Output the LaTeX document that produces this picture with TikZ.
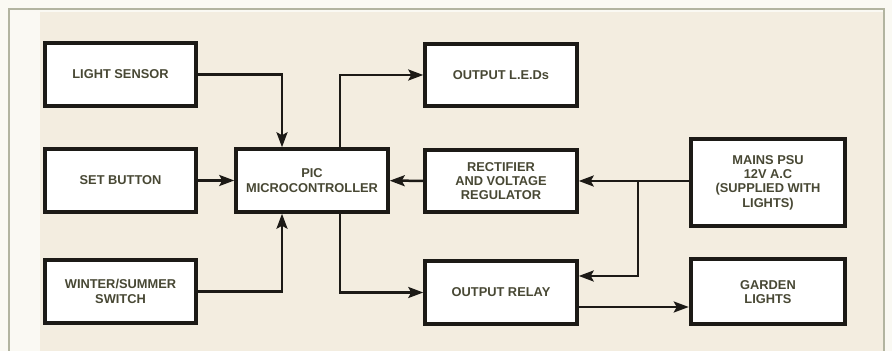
\documentclass[tikz,border=0pt]{standalone}
\usepackage{fontspec}
\setmainfont{Liberation Sans}
\usetikzlibrary{arrows.meta, positioning, calc}
\definecolor{paper}{RGB}{243,237,224}
\definecolor{margin}{RGB}{250,249,243}
\definecolor{frameline}{RGB}{178,180,160}
\definecolor{ink}{RGB}{28,26,22}
\definecolor{labelink}{RGB}{72,72,52}

\tikzset{
    block/.style={draw=ink, line width=0.08cm, fill=white, minimum width=3.03cm, minimum height=1.25cm,
        align=center, font=\fontsize{7.3}{8.2}\selectfont\bfseries, text=labelink, inner sep=1pt},
    conn/.style={draw=ink, line width=0.05cm, -{Stealth[length=0.3cm, width=0.22cm, inset=0.06cm]}},
}

\begin{document}
\begin{tikzpicture}
            \useasboundingbox (0,0) rectangle (17.84,7.02);
            % paper and frame
            \fill[margin] (0,0) rectangle (17.84,7.02);
            \fill[paper] (0.8,0) rectangle (17.68,6.78);
            \draw[frameline, line width=0.04cm] (0.18,0) -- (0.18,6.83) -- (17.68,6.83) -- (17.68,0);
            % blocks
            \node[block] (light) at (2.41,5.53) {LIGHT SENSOR};
            \node[block] (set) at (2.41,3.41) {SET BUTTON};
            \node[block] (season) at (2.41,1.19) {WINTER/SUMMER\\SWITCH};
            \node[block] (pic) at (6.24,3.41) {PIC\\MICROCONTROLLER};
            \node[block] (leds) at (10.02,5.52) {OUTPUT L.E.Ds};
            \node[block] (rect) at (10.02,3.40) {RECTIFIER\\AND VOLTAGE\\REGULATOR};
            \node[block] (relay) at (10.02,1.17) {OUTPUT RELAY};
            \node[block, minimum width=3.09cm, minimum height=1.75cm] (psu) at (15.36,3.37) {MAINS PSU\\12V A.C\\(SUPPLIED WITH\\LIGHTS)};
            \node[block, minimum width=3.09cm, minimum height=1.30cm] (garden) at (15.36,1.18) {GARDEN\\LIGHTS};
            % inputs to the PIC
            \draw[conn] (light.east) -| ($(pic.north)+(-0.6,0)$);
            \draw[conn] (set) -- (pic);
            \draw[conn] (season.east) -| ($(pic.south)+(-0.6,0)$);
            \draw[conn] (rect) -- (pic);
            % outputs of the PIC
            \draw[conn] ($(pic.north)+(0.56,0)$) |- (leds.west);
            \draw[conn] ($(pic.south)+(0.56,0)$) |- (relay.west);
            % supply
            \coordinate (split) at (12.76,3.40);
            \coordinate (switched) at ($(relay.east)+(0,-0.29)$);
            \draw[conn] (psu.west |- split) -- (rect.east |- split);
            \draw[conn] (split) |- ($(relay.east)+(0,0.33)$);
            \draw[conn] (switched) -- (switched -| garden.west);
        \end{tikzpicture}
\end{document}
